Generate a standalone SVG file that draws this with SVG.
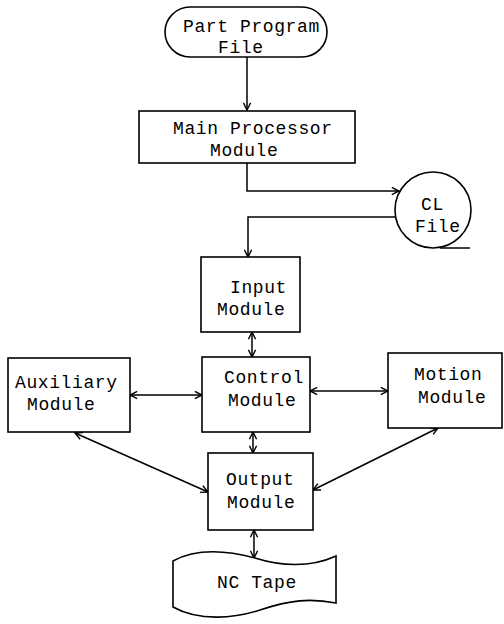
<svg xmlns="http://www.w3.org/2000/svg" width="504" height="624" viewBox="0 0 504 624">
<defs>
<marker id="ah" viewBox="0 0 10 10" refX="9" refY="5" markerWidth="9" markerHeight="9" markerUnits="userSpaceOnUse" orient="auto-start-reverse">
<path d="M1,1 L9,5 L1,9" fill="none" stroke="#000" stroke-width="1.6"/>
</marker>
<style>
.s{fill:#fff;stroke:#000;stroke-width:1.6}
.c{fill:none;stroke:#000;stroke-width:1.5}
text{font-family:"Liberation Mono","Courier New",monospace;font-size:18px;letter-spacing:0.6px;fill:#000}
</style>
</defs>
<rect width="504" height="624" fill="#fff"/>
<g id="connectors">
<path class="c" d="M247,57 V110" marker-end="url(#ah)"/>
<path class="c" d="M247,163 V191 H399" marker-end="url(#ah)"/>
<path class="c" d="M396,217 H248 V257" marker-end="url(#ah)"/>
<path class="c" d="M252,332 V357" marker-start="url(#ah)" marker-end="url(#ah)"/>
<path class="c" d="M130,395 H202" marker-start="url(#ah)" marker-end="url(#ah)"/>
<path class="c" d="M310,391 H388" marker-start="url(#ah)" marker-end="url(#ah)"/>
<path class="c" d="M253,432 V453" marker-start="url(#ah)" marker-end="url(#ah)"/>
<path class="c" d="M75,433 L208,492" marker-start="url(#ah)" marker-end="url(#ah)"/>
<path class="c" d="M438,428 L313,490" marker-start="url(#ah)" marker-end="url(#ah)"/>
<path class="c" d="M254,530 V558" marker-start="url(#ah)" marker-end="url(#ah)"/>
</g>
<g id="part-program-file">
<rect class="s" x="165" y="7" width="162" height="50" rx="25" ry="25"/>
<text x="183" y="32">Part Program</text>
<text x="218" y="53">File</text>
</g>
<g id="main-processor">
<rect class="s" x="139" y="111" width="216" height="52"/>
<text x="173" y="134">Main Processor</text>
<text x="210" y="156">Module</text>
</g>
<g id="cl-file">
<circle class="s" cx="433" cy="210" r="38"/>
<path class="c" d="M440,248 H470"/>
<text x="421" y="210">CL</text>
<text x="415" y="232">File</text>
</g>
<g id="input-module">
<rect class="s" x="201" y="257" width="99" height="75"/>
<text x="230" y="293">Input</text>
<text x="217" y="315">Module</text>
</g>
<g id="auxiliary-module">
<rect class="s" x="8" y="358" width="122" height="74"/>
<text x="15" y="388">Auxiliary</text>
<text x="27" y="410">Module</text>
</g>
<g id="control-module">
<rect class="s" x="202" y="357" width="108" height="75"/>
<text x="224" y="383">Control</text>
<text x="228" y="406">Module</text>
</g>
<g id="motion-module">
<rect class="s" x="388" y="353" width="114" height="75"/>
<text x="414" y="380">Motion</text>
<text x="418" y="403">Module</text>
</g>
<g id="output-module">
<rect class="s" x="208" y="453" width="105" height="77"/>
<text x="226" y="485">Output</text>
<text x="227" y="508">Module</text>
</g>
<g id="nc-tape">
<path class="s" d="M173,561 C195,549 225,550 255,558 C280,566 310,568 336,556 L336,603 C310,598 290,600 260,610 C235,618 200,622 173,607 Z"/>
<text x="217" y="588">NC Tape</text>
</g>
</svg>
